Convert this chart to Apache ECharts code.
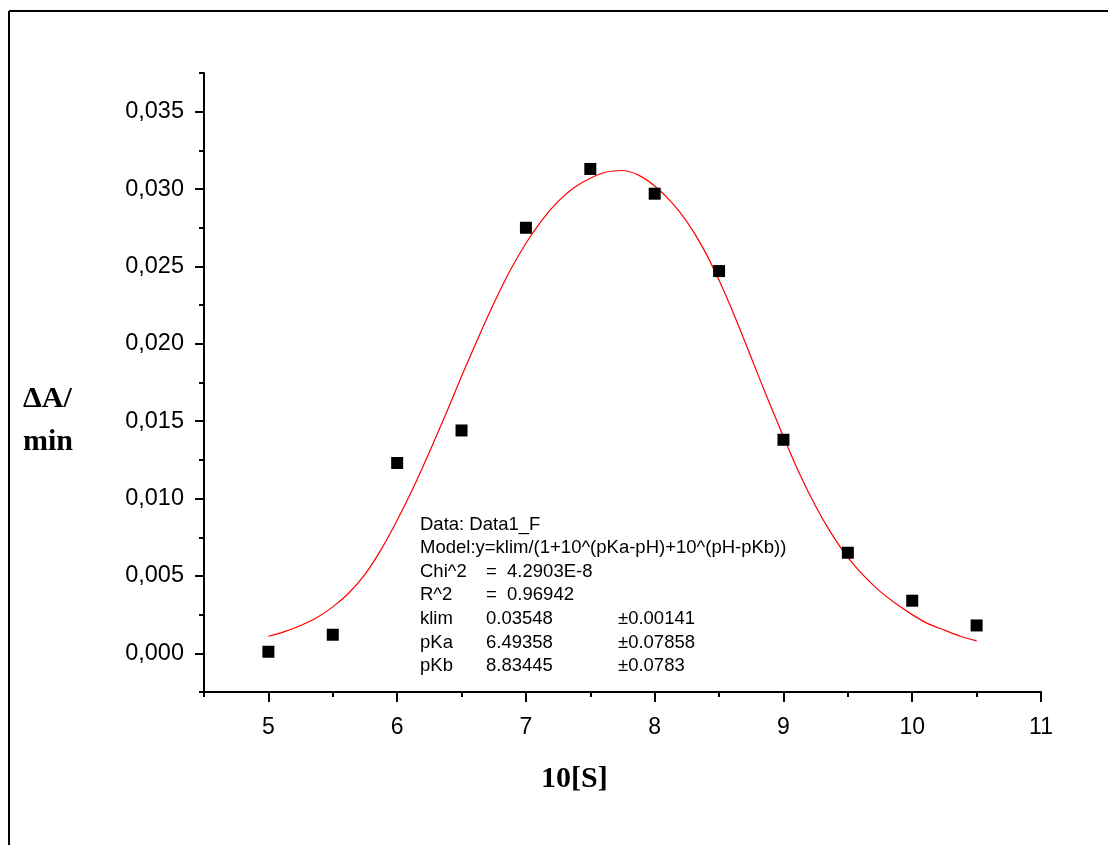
<!DOCTYPE html>
<html>
<head>
<meta charset="utf-8">
<script src="https://cdn.jsdelivr.net/npm/echarts@6/dist/echarts.min.js"></script>
<style>
html, body { margin: 0; padding: 0; background: #fff; }
#chart-box { width: 1108px; height: 845px; }
</style>
</head>
<body>
<div id="chart-box"></div>
<script>
// measured points
var xValues = [5, 5.5, 6, 6.5, 7, 7.5, 8, 8.5, 9, 9.5, 10, 10.5];
var rateValues = [0.0001, 0.0012, 0.0123, 0.0144, 0.0275, 0.0313, 0.0297, 0.0247, 0.0138, 0.0065, 0.0034, 0.0018];

// fitted curve
var fitX = [5, 5.125, 5.25, 5.375, 5.5, 5.625, 5.75, 5.875, 6, 6.125, 6.25, 6.375, 6.5, 6.625, 6.75, 6.875,
  7, 7.125, 7.25, 7.375, 7.5, 7.625, 7.75, 7.875, 8, 8.125, 8.25, 8.375, 8.5, 8.625, 8.75, 8.875,
  9, 9.125, 9.25, 9.375, 9.5, 9.625, 9.75, 9.875, 10, 10.125, 10.25, 10.375, 10.5];
var fitY = [0.0011, 0.0014, 0.0018, 0.0023, 0.0030, 0.0039, 0.0051, 0.0067, 0.0086, 0.0107, 0.0130, 0.0154, 0.0179, 0.0203, 0.0226, 0.0247,
  0.0265, 0.0280, 0.0292, 0.0301, 0.0307, 0.0311, 0.0312, 0.0309, 0.0302, 0.0292, 0.0279, 0.0262, 0.0241, 0.0217, 0.0191, 0.0165,
  0.0140, 0.0116, 0.0095, 0.0077, 0.0062, 0.0050, 0.0040, 0.0032, 0.0025, 0.0019, 0.0015, 0.0011, 0.0008];

// ticks
var xMajorTicks = [5, 6, 7, 8, 9, 10, 11];
var xMinorTicks = [4.5, 5.5, 6.5, 7.5, 8.5, 9.5, 10.5];
var yMajorTicks = [0, 0.005, 0.01, 0.015, 0.02, 0.025, 0.03, 0.035];
var yMinorTicks = [-0.0025, 0.0025, 0.0075, 0.0125, 0.0175, 0.0225, 0.0275, 0.0325, 0.0375];

// fit report
var fitLabels = ['Data: Data1_F', 'Model:y=klim/(1+10^(pKa-pH)+10^(pH-pKb))', 'Chi^2', 'R^2', 'klim', 'pKa', 'pKb'];
var fitValues = ['', '', '=  4.2903E-8', '=  0.96942', '0.03548', '6.49358', '8.83445'];
var fitErrors = ['', '', '', '', '±0.00141', '±0.07858', '±0.0783'];

var sansFont = '"Liberation Sans", Arial, sans-serif';
var serifFont = '"Liberation Serif", "Times New Roman", serif';

var chartDom = document.getElementById('chart-box');
var myChart = echarts.init(chartDom);

var reportText = [];
fitLabels.forEach(function (t, i) {
  var y = 526 + i * 23.6;
  reportText.push({ type: 'text', left: 420, top: y - 11, style: { text: t, font: '18.5px ' + sansFont, fill: '#000' } });
  if (fitValues[i]) reportText.push({ type: 'text', left: 486, top: y - 11, style: { text: fitValues[i], font: '18.5px ' + sansFont, fill: '#000' } });
  if (fitErrors[i]) reportText.push({ type: 'text', left: 618, top: y - 11, style: { text: fitErrors[i], font: '18.5px ' + sansFont, fill: '#000' } });
});

var axisColor = '#000';

var option = {
  animation: false,
  backgroundColor: '#fff',
  grid: { left: 204, right: 67, top: 73, bottom: 153 },
  xAxis: [
    {
      type: 'value', min: 4.5, max: 11, position: 'bottom',
      axisLine: { onZero: false, lineStyle: { color: axisColor, width: 2 } },
      axisTick: { customValues: xMajorTicks, length: 10, lineStyle: { color: axisColor, width: 2 } },
      axisLabel: { customValues: xMajorTicks, color: '#000', fontSize: 23, fontFamily: sansFont, margin: 24 },
      splitLine: { show: false }
    },
    {
      type: 'value', min: 4.5, max: 11, position: 'bottom',
      axisLine: { show: false, onZero: false },
      axisTick: { customValues: xMinorTicks, length: 5, lineStyle: { color: axisColor, width: 2 } },
      axisLabel: { show: false },
      splitLine: { show: false }
    }
  ],
  yAxis: [
    {
      type: 'value', min: -0.0025, max: 0.0375, position: 'left',
      axisLine: { show: true, onZero: false, lineStyle: { color: axisColor, width: 2 } },
      axisTick: { show: true, customValues: yMajorTicks, length: 9, lineStyle: { color: axisColor, width: 2 } },
      axisLabel: {
        customValues: yMajorTicks, color: '#000', fontSize: 23.5, fontFamily: sansFont, margin: 20,
        formatter: function (v) { return v.toFixed(3).replace('.', ','); }
      },
      splitLine: { show: false }
    },
    {
      type: 'value', min: -0.0025, max: 0.0375, position: 'left',
      axisLine: { show: false, onZero: false },
      axisTick: { show: true, customValues: yMinorTicks, length: 5, lineStyle: { color: axisColor, width: 2 } },
      axisLabel: { show: false },
      splitLine: { show: false }
    }
  ],
  series: [
    {
      name: 'fit',
      type: 'line',
      smooth: 0.3,
      showSymbol: false,
      data: fitX.map(function (x, i) { return [x, fitY[i]]; }),
      lineStyle: { color: '#ff0000', width: 1.2 },
      z: 2
    },
    {
      name: 'data',
      type: 'scatter',
      symbol: 'rect',
      symbolSize: 12,
      data: xValues.map(function (x, i) { return [x, rateValues[i]]; }),
      itemStyle: { color: '#000', opacity: 1 },
      z: 3
    }
  ],
  graphic: [
    { type: 'line', shape: { x1: 9, y1: 11, x2: 1108, y2: 11 }, style: { stroke: '#000', lineWidth: 2 } },
    { type: 'line', shape: { x1: 9, y1: 11, x2: 9, y2: 845 }, style: { stroke: '#000', lineWidth: 2 } },
    { type: 'text', left: 23, top: 384, style: { text: 'ΔA/', font: 'bold 30px ' + serifFont, fill: '#000' } },
    { type: 'text', left: 23, top: 427, style: { text: 'min', font: 'bold 30px ' + serifFont, fill: '#000' } },
    { type: 'text', left: 541, top: 764, style: { text: '10[S]', font: 'bold 30px ' + serifFont, fill: '#000' } }
  ].concat(reportText)
};

option && myChart.setOption(option);
</script>
</body>
</html>
